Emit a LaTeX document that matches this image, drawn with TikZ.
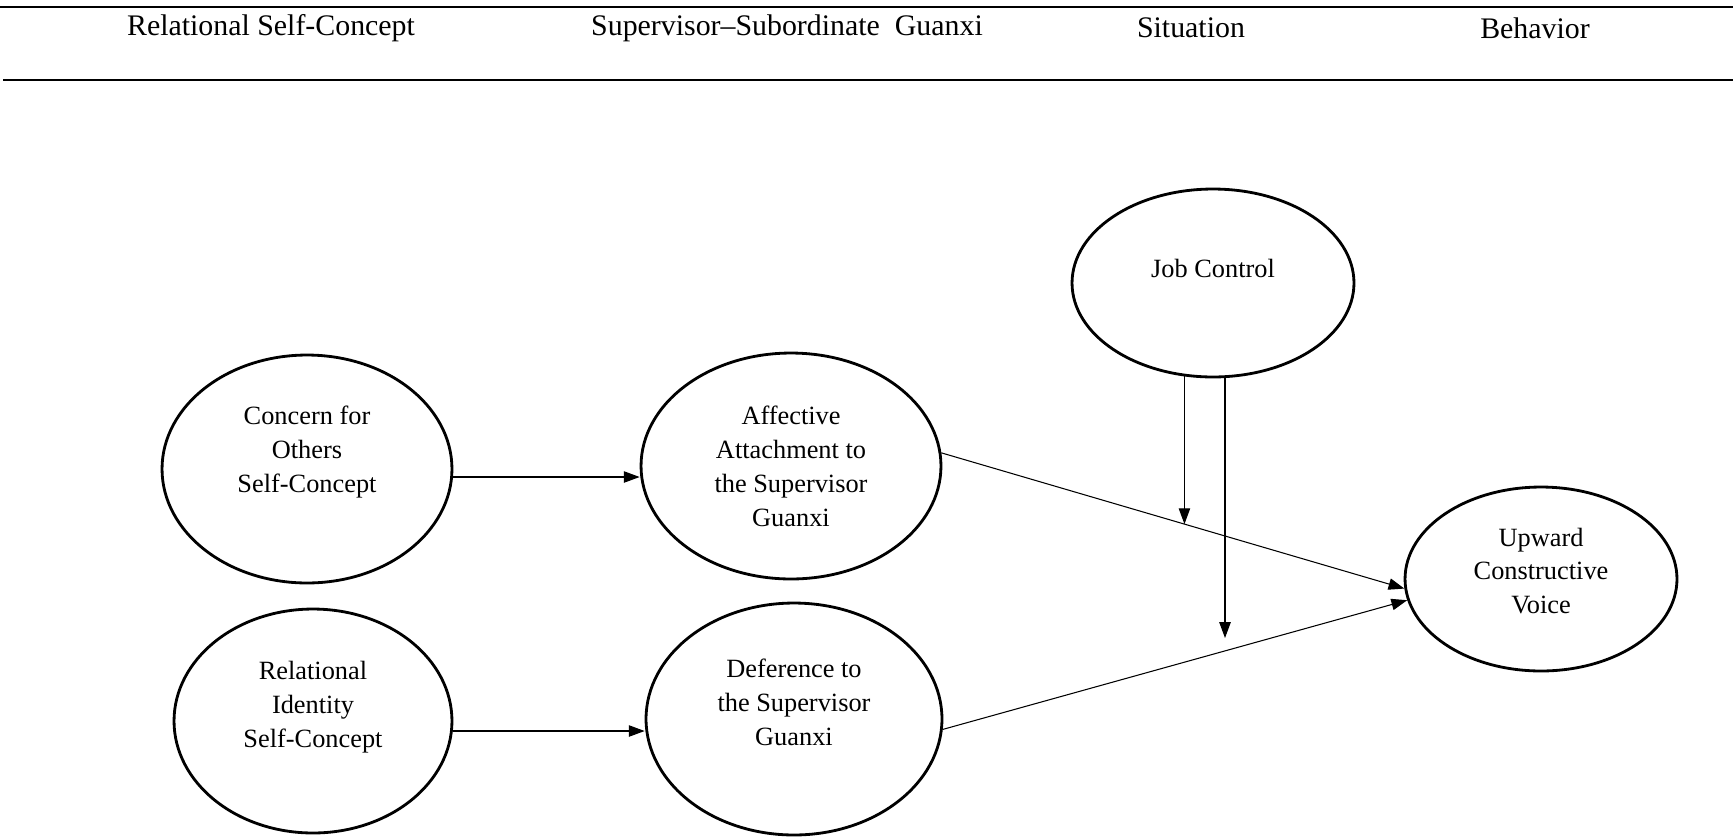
\documentclass[tikz,border=0pt]{standalone}
\usepackage{fontspec}
\setmainfont{Liberation Serif}
\usepackage{tikz}
\usetikzlibrary{positioning, arrows.meta, shapes.geometric, calc}

\begin{document}
\begin{tikzpicture}[x=0.02cm, y=-0.02cm,
  oval/.style 2 args={draw, ellipse, line width=1.6pt, minimum width=#1, minimum height=#2,
    inner sep=0pt, align=center, font=\fontsize{15}{19.3}\selectfont},
  head/.style={font=\fontsize{17}{20}\selectfont},
  arr/.style={-{Triangle[length=9pt,width=6.5pt]}, line width=0.6pt}]
\useasboundingbox (0,0) rectangle (1733,836);

% Header rules and column titles
\draw[line width=1.3pt] (0,7) -- (1733,7);
\draw[line width=1.3pt] (3,80) -- (1733,80);
\node[head] (hself) at (271,28) {Relational Self-Concept};
\node[head] (hguanxi) at (787,28) {Supervisor–Subordinate\ \ Guanxi};
\node[head] (hsit) at (1191,28) {Situation};
\node[head] (hbeh) at (1535,28) {Behavior};

% Self-concepts
\node[oval={5.8cm}{4.56cm}] (concern) at (307,469) {Concern for\\Others\\Self-Concept\\[0.1cm]{}};
\node[oval={5.56cm}{4.48cm}] (relid) at (313,721) {Relational\\Identity\\Self-Concept\\{}};

% Guanxi
\node[oval={6cm}{4.52cm}] (affective) at (791,466) {Affective\\Attachment to\\the Supervisor\\Guanxi};
\node[oval={5.92cm}{4.64cm}] (deference) at (794,719) {Deference to\\the Supervisor\\Guanxi\\{}};

% Situation and behavior
\node[oval={5.64cm}{3.76cm}] (jobctrl) at (1213,283) {Job Control\\[-0.1cm]{}};
\node[oval={5.44cm}{3.68cm}] (upward) at (1541,579) {Upward\\Constructive\\Voice\\[-0.35cm]{}};

% Paths
\draw[arr] ([yshift=-0.16cm]concern.east) -- ([yshift=-0.16cm]concern.east -| affective.west);
\draw[arr] ([yshift=-0.2cm]relid.east) -- ([yshift=-0.2cm]relid.east -| deference.west);
\draw[arr] (affective.5) -- (upward.184);
\draw[arr] (deference.-4) -- (upward.189);

% Moderation by job control
\coordinate (mod1) at ($(affective.5)!0.525!(upward.184)$);
\coordinate (mod2) at (1225,638);
\draw[arr] (jobctrl.253) -- (jobctrl.253 |- mod1);
\draw[arr] (jobctrl.south -| mod2) -- (mod2);
\end{tikzpicture}
\end{document}
